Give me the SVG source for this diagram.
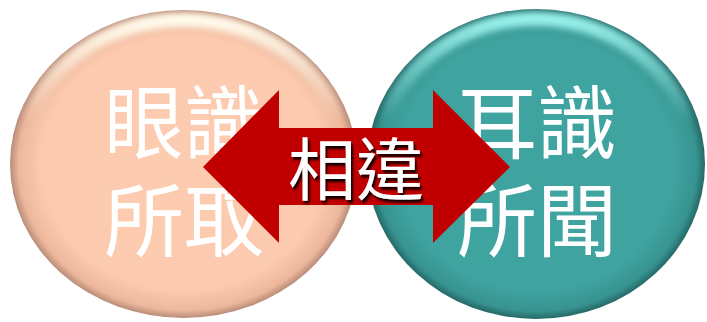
<svg xmlns="http://www.w3.org/2000/svg" width="707" height="322" viewBox="0 0 707 322">
<defs>
<style>
.lbl{font-family:"Liberation Sans","Noto Sans CJK TC",sans-serif;font-size:80px;fill:#FFFFFF;text-anchor:middle}
.mid{font-family:"Liberation Sans","Noto Sans CJK TC",sans-serif;font-size:68px;text-anchor:middle}
</style>
<radialGradient id="gL" cx="0.5" cy="0.5" r="0.5">
<stop offset="0" stop-color="#FDCBB0"/>
<stop offset="0.82" stop-color="#FCCAAF"/>
<stop offset="0.95" stop-color="#EDB79C"/>
<stop offset="1" stop-color="#B88C78"/>
</radialGradient>
<radialGradient id="gR" cx="0.5" cy="0.5" r="0.5">
<stop offset="0" stop-color="#3FA3A0"/>
<stop offset="0.82" stop-color="#3FA3A0"/>
<stop offset="0.95" stop-color="#379390"/>
<stop offset="1" stop-color="#256866"/>
</radialGradient>
<linearGradient id="hL" x1="0" y1="0" x2="0" y2="1">
<stop offset="0" stop-color="#FFFFF0" stop-opacity="0.95"/>
<stop offset="0.2" stop-color="#FFFFF0" stop-opacity="0.4"/>
<stop offset="0.35" stop-color="#FFFFF0" stop-opacity="0"/>
</linearGradient>
<linearGradient id="hR" x1="0" y1="0" x2="0" y2="1">
<stop offset="0" stop-color="#9EF5EF" stop-opacity="0.95"/>
<stop offset="0.2" stop-color="#9EF5EF" stop-opacity="0.4"/>
<stop offset="0.35" stop-color="#9EF5EF" stop-opacity="0"/>
</linearGradient>
<filter id="blur" x="-10%" y="-10%" width="120%" height="120%">
<feGaussianBlur stdDeviation="3"/>
</filter>
<filter id="ts" x="-10%" y="-20%" width="130%" height="140%">
<feGaussianBlur in="SourceAlpha" stdDeviation="1.2"/>
<feOffset dx="2" dy="2.5" result="o"/>
<feComponentTransfer><feFuncA type="linear" slope="0.9"/></feComponentTransfer>
<feMerge><feMergeNode/><feMergeNode in="SourceGraphic"/></feMerge>
</filter>
<clipPath id="cL"><ellipse cx="183.5" cy="164" rx="173.5" ry="154"/></clipPath>
<clipPath id="cR"><ellipse cx="536" cy="164" rx="169" ry="155"/></clipPath>
</defs>
<g id="node-left">
<ellipse cx="183.5" cy="164" rx="173.5" ry="154" fill="url(#gL)"/>
<g clip-path="url(#cL)">
<ellipse cx="183.5" cy="166" rx="165" ry="146" fill="none" stroke="url(#hL)" stroke-width="14" filter="url(#blur)"/>
</g>
<text class="lbl"><tspan x="184" y="152">眼識</tspan><tspan x="184" y="250">所取</tspan></text>
</g>
<g id="node-right">
<ellipse cx="536" cy="164" rx="169" ry="155" fill="url(#gR)"/>
<g clip-path="url(#cR)">
<ellipse cx="536" cy="166" rx="160" ry="147" fill="none" stroke="url(#hR)" stroke-width="14" filter="url(#blur)"/>
</g>
<text class="lbl"><tspan x="537" y="152">耳識</tspan><tspan x="537" y="250">所聞</tspan></text>
</g>
<g id="connectors">
<polygon points="203,167 279,90 279,128 433,128 433,90 510,167 433,243 433,205 279,205 279,243" fill="#C00000"/>
<text class="mid" x="356" y="195" fill="#FFFFFF" filter="url(#ts)">相違</text>
</g>
</svg>
